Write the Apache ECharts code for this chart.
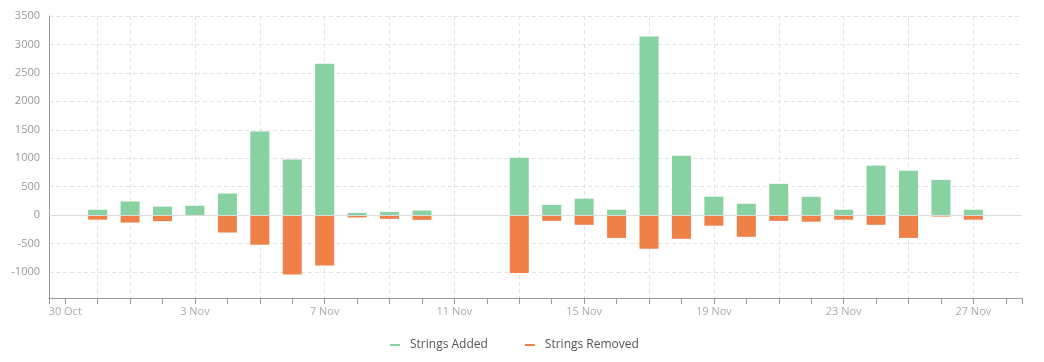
<!DOCTYPE html>
<html>
<head>
<meta charset="utf-8">
<script src="https://cdn.jsdelivr.net/npm/echarts@6/dist/echarts.min.js"></script>
<style>
  html, body { margin: 0; padding: 0; background: #fff; }
  #chart { width: 1044px; height: 362px; }
</style>
</head>
<body>
<div id="chart"></div>
<script>
// ---- data ----
const dates = ['2017-10-31','2017-11-01','2017-11-02','2017-11-03','2017-11-04','2017-11-05','2017-11-06','2017-11-07','2017-11-08','2017-11-09','2017-11-10',
               '2017-11-13','2017-11-14','2017-11-15','2017-11-16','2017-11-17','2017-11-18','2017-11-19','2017-11-20','2017-11-21','2017-11-22','2017-11-23','2017-11-24','2017-11-25','2017-11-26','2017-11-27'];
const stringsAdded   = [95, 240, 150, 165, 380, 1470, 980, 2660, 40, 58, 81,
                        1010, 181, 290, 95, 3140, 1045, 325, 200, 550, 322, 95, 870, 780, 620, 95];
const stringsRemoved = [-80, -130, -105, 0, -305, -520, -1045, -885, -40, -65, -83,
                        -1015, -100, -170, -400, -590, -415, -185, -380, -100, -115, -80, -170, -400, -25, -80];
const seriesNames = ['Strings Added', 'Strings Removed'];
const monthNames = ['Jan','Feb','Mar','Apr','May','Jun','Jul','Aug','Sep','Oct','Nov','Dec'];
const axisStart = '2017-10-30';   // day index 0
const yTicks = [-1000, -500, 0, 500, 1000, 1500, 2000, 2500, 3000, 3500];

const DAY = 86400000;
function parseUTC(s) { const p = s.split('-').map(Number); return Date.UTC(p[0], p[1]-1, p[2]); }
const t0 = parseUTC(axisStart);
function dayIndex(s) { return Math.round((parseUTC(s) - t0) / DAY); }
function labelFor(idx) { const d = new Date(t0 + idx * DAY); return d.getUTCDate() + ' ' + monthNames[d.getUTCMonth()]; }

const addedData = dates.map((d, i) => [dayIndex(d), stringsAdded[i]]);
const removedData = dates.map((d, i) => [dayIndex(d), stringsRemoved[i]]);
const vGridDays = [1]; for (let k = 2; k <= 28; k += 2) vGridDays.push(k);

const green = '#88d1a0', orange = '#ef8047';
const chart = echarts.init(document.getElementById('chart'));
chart.setOption({
  animation: false,
  textStyle: { fontFamily: 'Open Sans' },
  grid: { left: 49, right: 22, top: 16, bottom: 64 },
  legend: {
    top: 334, left: 385,
    data: seriesNames,
    icon: 'rect', itemWidth: 10, itemHeight: 2, itemGap: 37,
    textStyle: { color: '#555', fontSize: 12, fontFamily: 'Open Sans', padding: [0, 0, 0, 5] }
  },
  xAxis: [{
    type: 'value', min: -0.5, max: 29.5, minInterval: 1, maxInterval: 1, splitNumber: 30,
    axisLine: { show: true, onZero: false, lineStyle: { color: '#999' } },
    axisTick: { show: true, length: 6, lineStyle: { color: '#999' } },
    axisLabel: {
      color: '#aaa', fontSize: 11, margin: 8, fontFamily: 'Open Sans',
      formatter: v => (Number.isInteger(v) && v % 4 === 0) ? labelFor(v) : ''
    },
    splitLine: { show: false }
  }, {
    type: 'value', min: -0.5, max: 29.5, minInterval: 2, maxInterval: 2, position: 'bottom',
    axisLine: { show: false, onZero: false },
    axisTick: { show: false, customValues: vGridDays },
    axisLabel: { show: false },
    splitLine: { show: true, lineStyle: { color: '#e3e3e3', type: [4, 3] } }
  }],
  yAxis: {
    type: 'value', min: -1456, max: 3500, minInterval: 500, maxInterval: 500,
    axisLine: { show: true, onZero: false, lineStyle: { color: '#999' } },
    axisTick: { show: false },
    axisLabel: {
      color: '#999', fontSize: 11, margin: 9, fontFamily: 'Open Sans',
      formatter: v => yTicks.indexOf(v) >= 0 ? String(v) : ''
    },
    splitLine: { show: true, lineStyle: { color: '#e3e3e3', type: [4, 3] } }
  },
  series: [{
    name: seriesNames[0], type: 'bar', data: addedData, barWidth: 19, barGap: '-100%',
    itemStyle: { color: green },
    markLine: {
      silent: true, symbol: 'none', label: { show: false },
      lineStyle: { color: '#dcdcdc', type: 'solid', width: 1 },
      data: [{ yAxis: 0 }]
    }
  }, {
    name: seriesNames[1], type: 'bar', data: removedData, barWidth: 19, barGap: '-100%',
    itemStyle: { color: orange }
  }]
});
</script>
</body>
</html>
